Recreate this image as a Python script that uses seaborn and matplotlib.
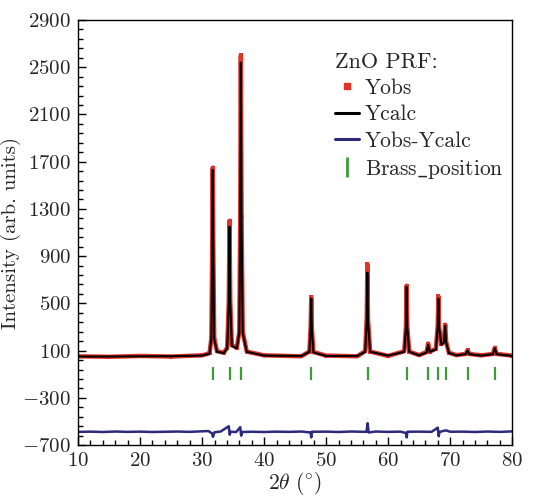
import matplotlib
matplotlib.use("Agg")
import numpy as np
import matplotlib.pyplot as plt
from matplotlib.lines import Line2D
from matplotlib.ticker import MultipleLocator, FixedLocator
import seaborn as sns

# Ycalc profile, points
two_theta = [10, 15, 20, 25, 30, 31.2, 31.5, 31.62, 31.72, 31.82, 31.95, 32.4,
             33.5, 34.05, 34.3, 34.42, 34.54, 34.8, 35.6, 36.0, 36.15, 36.25,
             36.36, 36.55, 37.2, 40, 46, 47.3, 47.5, 47.6, 47.7, 47.95, 50, 55,
             56.3, 56.55, 56.65, 56.75, 57.1, 60, 62.6, 62.88, 62.98, 63.08,
             63.4, 65, 66.2, 66.45, 66.7, 67.7, 68.0, 68.1, 68.2, 68.6, 69.0,
             69.2, 69.35, 69.8, 71, 72.5, 72.8, 73.1, 75, 76.9, 77.2, 77.5, 80]
y_calc = [50, 50, 52, 53, 58, 75, 200, 900, 1630, 900, 200, 90,
          80, 120, 500, 1150, 500, 140, 120, 250, 1200, 2540,
          1200, 250, 90, 58, 55, 90, 280, 540, 280, 85, 55, 55,
          90, 350, 760, 350, 90, 58, 90, 300, 640, 300,
          90, 60, 85, 150, 90, 110, 300, 540, 300, 150, 170,
          310, 170, 80, 60, 70, 100, 70, 58, 70, 120, 70, 55]
y_obs = [52, 48, 55, 50, 60, 78, 210, 920, 1650, 910, 210, 95,
         82, 125, 520, 1200, 520, 145, 125, 260, 1230, 2600,
         1230, 260, 92, 60, 52, 92, 290, 550, 290, 88, 58, 52,
         95, 370, 830, 370, 92, 55, 95, 310, 650, 310,
         92, 62, 88, 160, 92, 115, 310, 560, 310, 155, 175,
         320, 175, 82, 62, 72, 104, 72, 60, 72, 124, 72, 58]

# Yobs - Ycalc (offset)
diff_theta = [10, 12, 14, 16, 18, 20, 22, 24, 26, 28, 30, 31.0, 31.6, 31.75,
              32.0, 33, 34.3, 34.45, 34.6, 35.5, 36.15, 36.3, 36.45, 38, 40,
              42, 44, 46, 47.5, 47.6, 47.7, 50, 52, 54, 56.5, 56.7, 56.85, 58,
              60, 62, 62.9, 63.0, 63.1, 65, 67, 68.0, 68.15, 68.3, 69.3, 70,
              72, 74, 76, 78, 80]
diff_vals = [-588, -586, -589, -585, -588, -586, -589, -587, -585, -588, -583,
             -581, -600, -630, -591, -585, -540, -612, -587, -589, -548, -620,
             -589, -587, -589, -586, -588, -585, -593, -635, -587, -586, -589,
             -585, -588, -515, -593, -585, -588, -586, -598, -635, -587, -586,
             -588, -552, -625, -588, -575, -587, -586, -589, -585, -588, -584]

brass_positions = [31.7, 34.45, 36.25, 47.6, 56.7, 63.0, 66.5, 68.1, 69.3, 72.8, 77.2]

sns.set_theme(style="ticks")
plt.rcParams["font.family"] = ["cmr10", "DejaVu Serif"]
plt.rcParams["mathtext.fontset"] = "cm"
plt.rcParams["axes.formatter.use_mathtext"] = True

red = "#e0342b"
navy = "#2d2a7c"
green = "#3f9a3a"

fig = plt.figure(figsize=(5.46, 4.99), dpi=100)
ax = fig.add_axes([0.143, 0.108, 0.795, 0.852])

sns.lineplot(x=two_theta, y=y_obs, ax=ax, color=red, lw=3.2, estimator=None,
             sort=False, marker="s", markersize=2.5, markeredgewidth=0)
sns.lineplot(x=two_theta, y=y_calc, ax=ax, color="black", lw=1.5, estimator=None,
             sort=False)
sns.lineplot(x=diff_theta, y=diff_vals, ax=ax, color=navy, lw=1.8, estimator=None,
             sort=False)
ax.vlines(brass_positions, -150, -40, color=green, lw=1.6)

ax.set_xlim(10, 80)
ax.set_ylim(-700, 2900)
ax.xaxis.set_major_locator(MultipleLocator(10))
ax.xaxis.set_minor_locator(MultipleLocator(2))
ax.yaxis.set_major_locator(FixedLocator(np.arange(-700, 2901, 400)))
ax.yaxis.set_minor_locator(FixedLocator(np.arange(-700, 2901, 80)))
ax.tick_params(which="both", direction="in", top=False, right=False,
               labelsize=15, width=1, color="black")
ax.tick_params(which="major", length=6, pad=5)
ax.tick_params(which="minor", length=3.5)
for s in ax.spines.values():
    s.set_linewidth(1.0)
    s.set_color("black")

ax.set_xlabel(r"$2\theta\ (^{\circ})$", fontsize=15.5, labelpad=0)
ax.set_ylabel("Intensity (arb. units)", fontsize=15)
ax.yaxis.set_label_coords(-0.132, 0.5)

handles = [
    Line2D([], [], ls="none", marker="s", color=red, markersize=4),
    Line2D([], [], color="black", lw=2.2),
    Line2D([], [], color=navy, lw=2.2),
    Line2D([], [], ls="none", marker="|", color=green, markersize=14, mew=2),
]
labels = ["Yobs", "Ycalc", "Yobs-Ycalc", r"Brass$\_$position"]
leg = ax.legend(handles, labels, title="ZnO PRF:", loc="upper right",
                bbox_to_anchor=(1.025, 0.97), frameon=False, fontsize=15.5,
                title_fontsize=16, handlelength=1.1, handletextpad=0.3,
                labelspacing=0.32, alignment="left")

fig.savefig("out.png", dpi=100)
